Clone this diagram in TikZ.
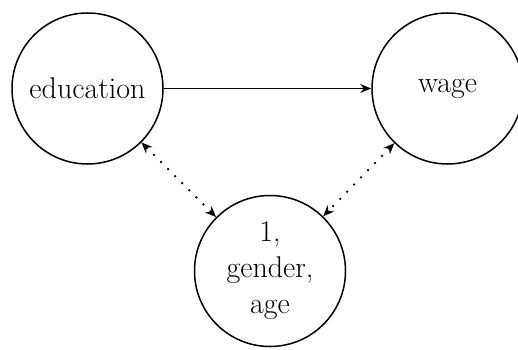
\documentclass[tikz,border=0pt]{standalone}
\usetikzlibrary{arrows.meta}
\begin{document}
\begin{tikzpicture}[x=1pt,y=1pt,
  var/.style={circle,draw,line width=1.5pt,minimum size=151pt,inner sep=0pt,align=center,
    font=\fontsize{30}{36}\selectfont},
  tip/.style={-{Stealth[length=11pt,width=9pt,inset=3.5pt]}},
  dottip/.style={{Stealth[length=11pt,width=9pt,inset=3.5pt]}-{Stealth[length=11pt,width=9pt,inset=3.5pt]},
    line width=1.8pt,dash pattern=on 1.8pt off 8.2pt}]
\useasboundingbox (0,0) rectangle (518,349);
\node[var] (edu) at (87.5,260.5) {education};
\node[var] (wage) at (447.5,260.5) {wage};
\node[var] (ctrl) at (270,78) {1,\\gender,\\age};
\draw[tip,line width=1.5pt] (edu) -- (wage);
\draw[dottip] (edu) -- (ctrl);
\draw[dottip] (wage) -- (ctrl);
\end{tikzpicture}
\end{document}
